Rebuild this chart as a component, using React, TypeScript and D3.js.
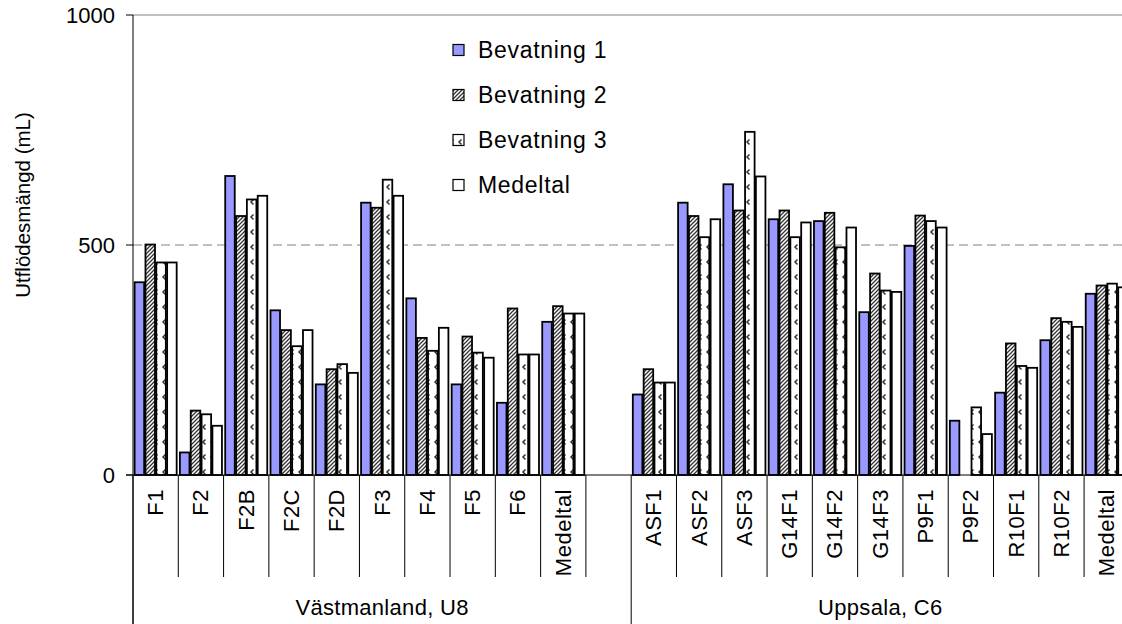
import React from "react";
import * as d3 from "d3";

// Site groups and the sampling points in each (the last slot of the first group is left empty)
const groupNames = ["Västmanland, U8", "Uppsala, C6"];
const sitesU8 = ["F1", "F2", "F2B", "F2C", "F2D", "F3", "F4", "F5", "F6", "Medeltal", ""];
const sitesC6 = ["ASF1", "ASF2", "ASF3", "G14F1", "G14F2", "G14F3", "P9F1", "P9F2", "R10F1", "R10F2", "Medeltal"];

const seriesNames = ["Bevatning 1", "Bevatning 2", "Bevatning 3", "Medeltal"];

// Outflow (mL) per irrigation, Västmanland U8
const u8Bev1 = [419, 49, 650, 358, 197, 592, 384, 197, 157, 333];
const u8Bev2 = [501, 140, 563, 315, 230, 581, 298, 301, 362, 367];
const u8Bev3 = [462, 132, 599, 280, 241, 642, 270, 266, 262, 351];
const u8Mean = [462, 107, 607, 315, 222, 607, 320, 255, 262, 351];

// Outflow (mL) per irrigation, Uppsala C6
const c6Bev1 = [175, 592, 632, 556, 552, 354, 498, 118, 179, 293, 394];
const c6Bev2 = [230, 563, 575, 575, 570, 438, 564, null, 286, 341, 412];
const c6Bev3 = [201, 517, 746, 517, 495, 401, 552, 147, 237, 333, 416];
const c6Mean = [201, 556, 649, 549, 538, 398, 538, 89, 233, 322, 408];

const yTicks = [0, 500, 1000];

const W = 1122;
const H = 624;
const FONT = "'Liberation Sans', Arial, sans-serif";

const left = 133;
const catStep = 45.29;
const top = 15;
const base = 475;

type Cell = { cat: number; series: number; value: number | null };

export default function App() {
  const allSites = [...sitesU8, ...sitesC6];
  const catIdx = allSites.map((_, i) => i);

  const x = d3
    .scaleBand<number>()
    .domain(catIdx)
    .range([left, left + catStep * allSites.length])
    .padding(0);

  const xs = d3
    .scaleBand<number>()
    .domain([0, 1, 2, 3])
    .range([0, x.bandwidth()])
    .paddingInner(0.12)
    .paddingOuter(0.15);

  const y = d3.scaleLinear().domain([0, 1000]).range([base, top]);

  const seriesU8 = [u8Bev1, u8Bev2, u8Bev3, u8Mean];
  const seriesC6 = [c6Bev1, c6Bev2, c6Bev3, c6Mean];

  const cells: Cell[] = [];
  seriesU8.forEach((arr, s) =>
    arr.forEach((v, i) => cells.push({ cat: i, series: s, value: v }))
  );
  seriesC6.forEach((arr, s) =>
    arr.forEach((v, i) => cells.push({ cat: sitesU8.length + i, series: s, value: v }))
  );

  const fills = ["#9999FF", "url(#hatch)", "url(#confetti)", "#FFFFFF"];

  const groupStarts = [0, sitesU8.length];
  const groupEnd = (g: number) =>
    g === 0 ? sitesU8.length : sitesU8.length + sitesC6.length;

  const legendY = [50, 95, 140, 185];

  return (
    <div style={{ position: "absolute", left: 0, top: 0 }}>
      <svg width={W} height={H} style={{ display: "block", background: "#fff" }}>
        <defs>
          <pattern id="hatch" patternUnits="userSpaceOnUse" width="4" height="4">
            <rect width="4" height="4" fill="#fff" />
            <path d="M-1,1 L1,-1 M0,4 L4,0 M3,5 L5,3" stroke="#333" strokeWidth="1.3" />
          </pattern>
          <pattern id="confetti" patternUnits="userSpaceOnUse" width="8" height="15">
            <rect width="8" height="15" fill="#fff" />
            <path d="M5.5,4.5 L3,7 L5.5,9.5" stroke="#333" strokeWidth="1.5" fill="none" />
          </pattern>
        </defs>

        {/* top border and dashed gridline */}
        <line x1={left} x2={W} y1={y(1000)} y2={y(1000)} stroke="#808080" strokeWidth={1} />
        <line
          x1={left}
          x2={W}
          y1={y(500)}
          y2={y(500)}
          stroke="#808080"
          strokeWidth={1}
          strokeDasharray="9,5"
        />

        {/* bars */}
        {cells
          .filter((c) => c.value !== null)
          .map((c, i) => {
            const bx = (x(c.cat) as number) + (xs(c.series) as number);
            const by = y(c.value as number);
            return (
              <rect
                key={i}
                x={bx}
                y={by}
                width={xs.bandwidth()}
                height={base - by}
                fill={fills[c.series]}
                stroke="#000"
                strokeWidth={1.8}
              />
            );
          })}

        {/* y axis */}
        <line x1={left} x2={left} y1={top} y2={H} stroke="#000" strokeWidth={1} />
        {yTicks.map((t) => (
          <g key={t}>
            <line x1={left - 7} x2={left} y1={y(t)} y2={y(t)} stroke="#000" strokeWidth={1} />
            <text
              x={115}
              y={y(t)}
              textAnchor="end"
              dominantBaseline="central"
              fontFamily={FONT}
              fontSize={22}
              fill="#000"
            >
              {t}
            </text>
          </g>
        ))}
        <text
          transform={`translate(22, ${205}) rotate(-90)`}
          textAnchor="middle"
          dominantBaseline="central"
          fontFamily={FONT}
          fontSize={20.5}
          fill="#000"
        >
          Utflödesmängd (mL)
        </text>

        {/* x axis */}
        <line x1={left - 7} x2={W} y1={base} y2={base} stroke="#000" strokeWidth={1} />
        {catIdx.map((i) => {
          const isGroupEdge = groupStarts.includes(i);
          return (
            <line
              key={"t" + i}
              x1={x(i) as number}
              x2={x(i) as number}
              y1={base}
              y2={isGroupEdge ? H : 577}
              stroke="#000"
              strokeWidth={1}
            />
          );
        })}
        <line
          x1={x.range()[1]}
          x2={x.range()[1]}
          y1={base}
          y2={H}
          stroke="#000"
          strokeWidth={1}
        />
        {allSites.map((s, i) =>
          s ? (
            <text
              key={"c" + i}
              transform={`translate(${(x(i) as number) + x.bandwidth() / 2}, 489) rotate(-90)`}
              textAnchor="end"
              dominantBaseline="central"
              fontFamily={FONT}
              fontSize={22}
              letterSpacing={0.5}
              fill="#000"
            >
              {s}
            </text>
          ) : null
        )}
        {groupNames.map((g, gi) => {
          const x0 = x(groupStarts[gi]) as number;
          const x1 = x0 + x.step() * (groupEnd(gi) - groupStarts[gi]);
          return (
            <text
              key={g}
              x={(x0 + x1) / 2}
              y={607}
              textAnchor="middle"
              dominantBaseline="central"
              fontFamily={FONT}
              fontSize={22}
              letterSpacing={0.3}
              fill="#000"
            >
              {g}
            </text>
          );
        })}

        {/* legend */}
        {seriesNames.map((n, i) => (
          <g key={n}>
            <rect
              x={453}
              y={legendY[i] - 5.5}
              width={11}
              height={11}
              fill={fills[i]}
              stroke="#000"
              strokeWidth={1.2}
            />
            <text
              x={478}
              y={legendY[i]}
              dominantBaseline="central"
              fontFamily={FONT}
              fontSize={23}
              letterSpacing={0.7}
              fill="#000"
            >
              {n}
            </text>
          </g>
        ))}
      </svg>
    </div>
  );
}
